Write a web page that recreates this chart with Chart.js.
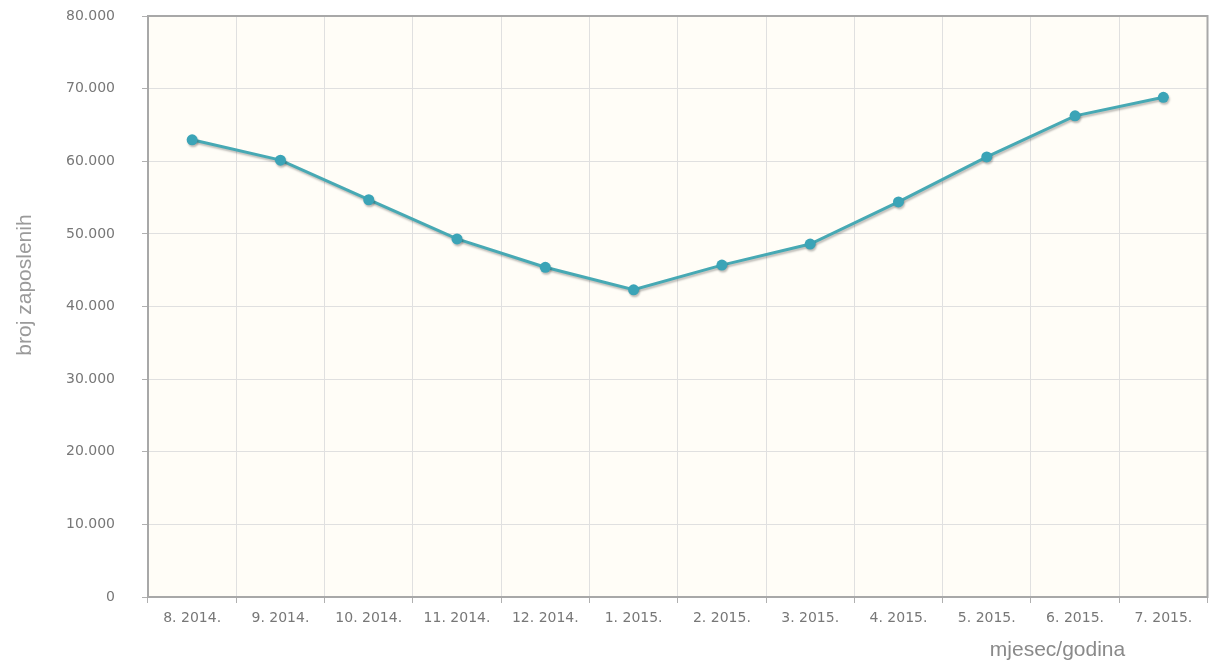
<!DOCTYPE html>
<html>
<head>
<meta charset="utf-8">
<title>broj zaposlenih</title>
<script src="https://cdn.jsdelivr.net/npm/chart.js@4.4.0/dist/chart.umd.min.js"></script>
<style>
    html, body { margin: 0; padding: 0; background: #ffffff; }
    #wrap { position: relative; width: 1213px; height: 666px; }
</style>
</head>
<body>
<div id="wrap"><canvas id="employChart" width="1213" height="666"></canvas></div>
<script>
// Data
const months = ['8. 2014.', '9. 2014.', '10. 2014.', '11. 2014.', '12. 2014.', '1. 2015.',
                '2. 2015.', '3. 2015.', '4. 2015.', '5. 2015.', '6. 2015.', '7. 2015.'];
const employed = [62950, 60150, 54700, 49300, 45400, 42300, 45700, 48600, 54400, 60600, 66250, 68800];
const yTickValues = [0, 10000, 20000, 30000, 40000, 50000, 60000, 70000, 80000];

const yTitle = 'broj zaposlenih';
const xTitle = 'mjesec/godina';

function formatThousands(v) {
    return String(v).replace(/\B(?=(\d{3})+(?!\d))/g, '.');
}

// Cream plot background, grey frame and the two axis titles
const plotFrame = {
    id: 'plotFrame',
    beforeDraw(chart) {
        const { ctx, chartArea: a } = chart;
        ctx.save();
        ctx.fillStyle = '#fffdf7';
        ctx.fillRect(a.left, a.top, a.right - a.left, a.bottom - a.top);
        ctx.restore();
    },
    beforeDatasetsDraw(chart) {
        const { ctx, chartArea: a } = chart;
        ctx.save();
        ctx.strokeStyle = '#a8a8a8';
        ctx.lineWidth = 2;
        ctx.strokeRect(a.left, a.top, a.right - a.left, a.bottom - a.top);
        ctx.restore();
    },
    afterDraw(chart) {
        const { ctx, chartArea: a } = chart;
        ctx.save();
        ctx.fillStyle = '#9a9a9a';
        ctx.font = '21px "Liberation Sans", Arial, sans-serif';
        ctx.textAlign = 'center';
        ctx.textBaseline = 'middle';
        ctx.translate(25, 285);
        ctx.rotate(-Math.PI / 2);
        ctx.fillText(yTitle, 0, 0);
        ctx.restore();

        ctx.save();
        ctx.fillStyle = '#8a8a8a';
        ctx.font = '21px "Liberation Sans", Arial, sans-serif';
        ctx.textAlign = 'center';
        ctx.textBaseline = 'middle';
        ctx.fillText(xTitle, a.right - 150, 650);
        ctx.restore();
    }
};

// Soft grey shadow under the line
const lineShadow = {
    id: 'lineShadow',
    beforeDatasetDraw(chart) {
        const ctx = chart.ctx;
        ctx.shadowColor = 'rgba(0, 0, 0, 0.25)';
        ctx.shadowBlur = 2;
        ctx.shadowOffsetX = 1;
        ctx.shadowOffsetY = 2;
    },
    afterDatasetDraw(chart) {
        const ctx = chart.ctx;
        ctx.shadowColor = 'rgba(0, 0, 0, 0)';
        ctx.shadowBlur = 0;
        ctx.shadowOffsetX = 0;
        ctx.shadowOffsetY = 0;
    }
};

const canvas = document.getElementById('employChart');
new Chart(canvas.getContext('2d'), {
    type: 'line',
    data: {
        labels: months,
        datasets: [{
            label: yTitle,
            data: employed,
            borderColor: '#47a9b4',
            borderWidth: 3,
            backgroundColor: '#3ba4b7',
            pointBackgroundColor: '#3ba4b7',
            pointBorderColor: '#3ba4b7',
            pointRadius: 5.5,
            pointBorderWidth: 0,
            tension: 0,
            fill: false
        }]
    },
    options: {
        responsive: false,
        animation: false,
        events: [],
        layout: {
            padding: { top: 16, right: 4, left: 0, bottom: 0 }
        },
        plugins: {
            legend: { display: false },
            tooltip: { enabled: false }
        },
        scales: {
            x: {
                offset: true,
                grid: {
                    offset: true,
                    color: '#e0e0e0',
                    tickColor: '#b0b0b0',
                    tickLength: 6
                },
                border: { display: false },
                ticks: {
                    color: '#777777',
                    font: { family: '"DejaVu Sans", Verdana, sans-serif', size: 14 },
                    padding: 7,
                    autoSkip: false,
                    maxRotation: 0
                },
                afterFit(scale) {
                    scale.height = 69;
                    scale.paddingLeft = 0;
                    scale.paddingRight = 0;
                }
            },
            y: {
                min: 0,
                max: 80000,
                afterBuildTicks(scale) {
                    scale.ticks = yTickValues.map(v => ({ value: v }));
                },
                grid: {
                    color: '#e0e0e0',
                    tickColor: '#b0b0b0',
                    tickLength: 6
                },
                border: { display: false },
                ticks: {
                    color: '#777777',
                    font: { family: '"DejaVu Sans", Verdana, sans-serif', size: 14 },
                    padding: 27,
                    callback: function(value) {
                        return formatThousands(value);
                    }
                },
                afterFit(scale) {
                    scale.width = 148;
                    scale.paddingTop = 0;
                    scale.paddingBottom = 0;
                }
            }
        }
    },
    plugins: [plotFrame, lineShadow]
});
</script>
</body>
</html>
